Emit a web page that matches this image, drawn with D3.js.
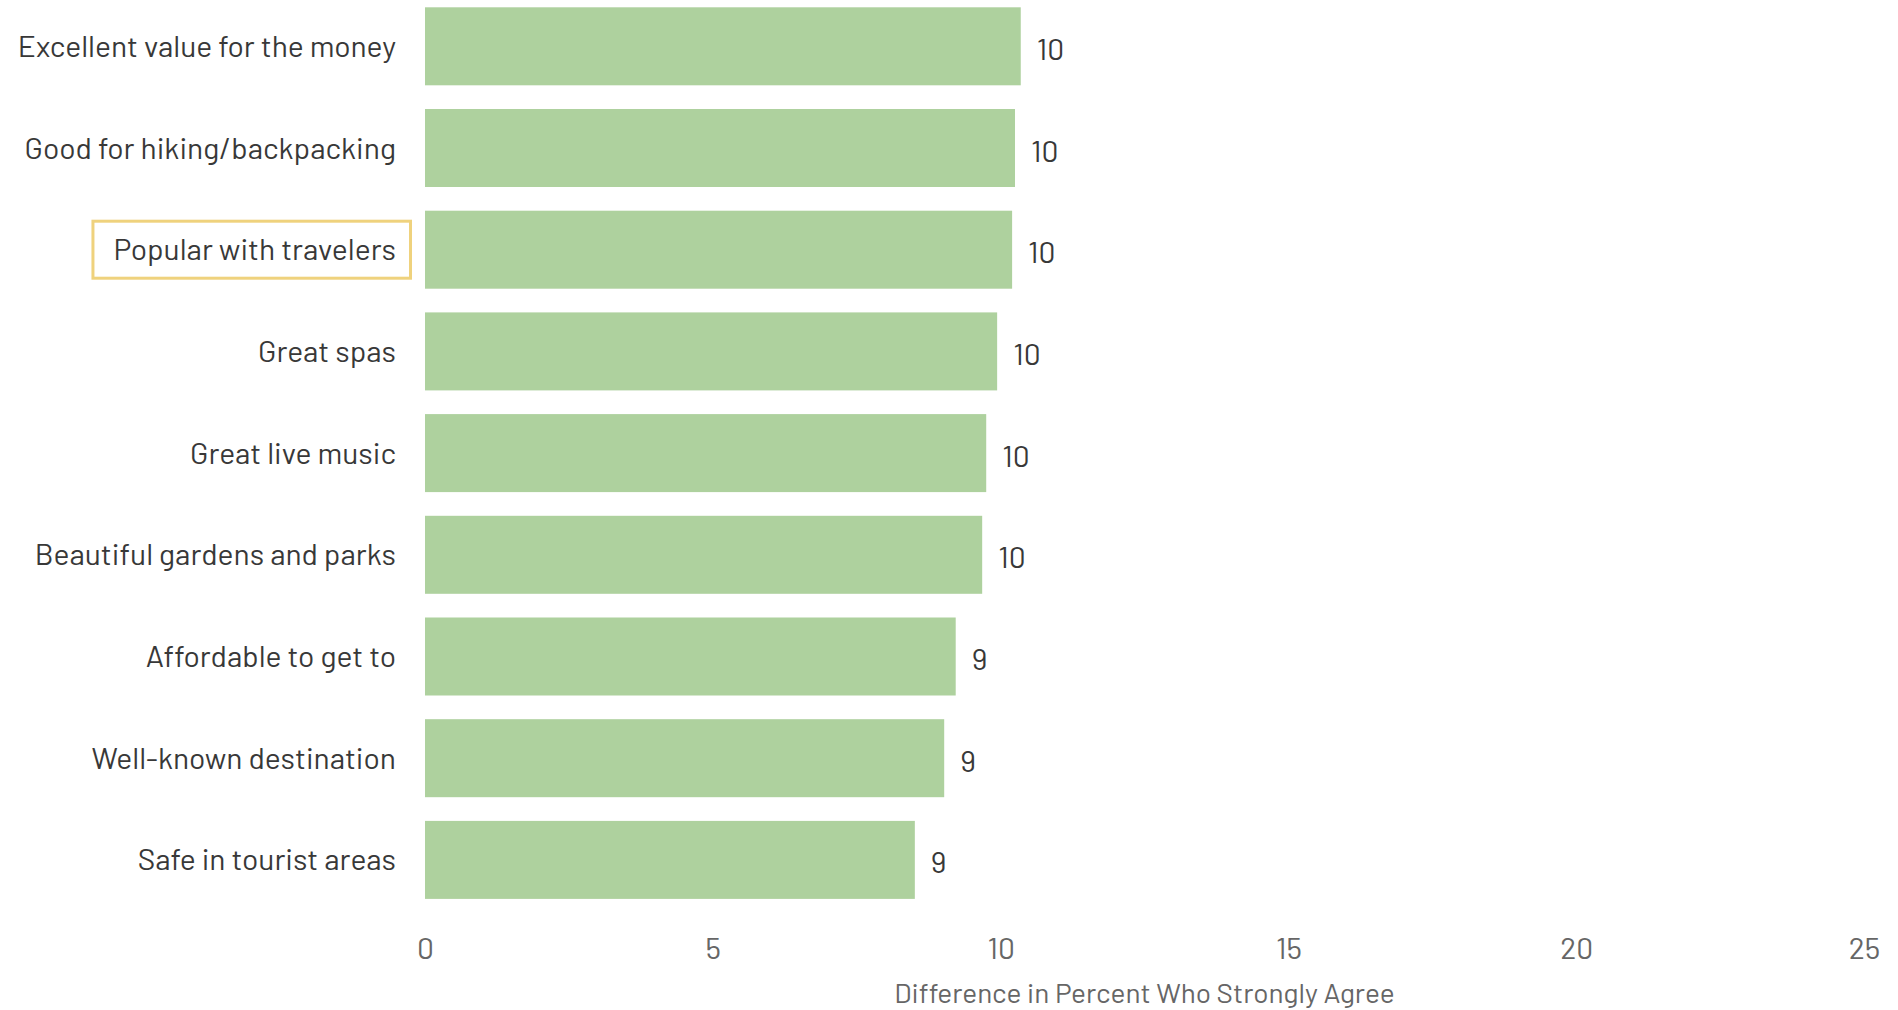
<!DOCTYPE html>
<html>
<head>
<meta charset="utf-8">
<script src="https://cdn.jsdelivr.net/npm/d3@7"></script>
<style>
  html, body { margin: 0; padding: 0; background: #ffffff; }
  svg { display: block; font-family: "Barlow", "Roboto", sans-serif; }
</style>
</head>
<body>
<svg id="chart" width="1898" height="1010"></svg>
<script>
// Attributes, ordered as shown (top to bottom)
const categories = [
  "Excellent value for the money",
  "Good for hiking/backpacking",
  "Popular with travelers",
  "Great spas",
  "Great live music",
  "Beautiful gardens and parks",
  "Affordable to get to",
  "Well-known destination",
  "Safe in tourist areas"
];

// Difference in percent who strongly agree
const values = [10.35, 10.25, 10.20, 9.94, 9.75, 9.68, 9.22, 9.02, 8.51];

// X-axis ticks
const xTicks = [0, 5, 10, 15, 20, 25];

// Category that gets an outlined label
const highlighted = "Popular with travelers";

const axisTitle = "Difference in Percent Who Strongly Agree";

const data = categories.map((c, i) => ({ category: c, value: values[i] }));

const plot = { left: 425, right: 1864, top: 7.3, bottom: 898.9 };

const svg = d3.select("#chart");

const x = d3.scaleLinear()
  .domain([0, 25])
  .range([plot.left, plot.right]);

const y = d3.scaleBand()
  .domain(categories)
  .range([plot.top, plot.bottom])
  .paddingInner(0.233)
  .paddingOuter(0);

// Bars
svg.append("g")
  .selectAll("rect")
  .data(data)
  .join("rect")
    .attr("x", x(0))
    .attr("y", d => y(d.category))
    .attr("width", d => x(d.value) - x(0))
    .attr("height", y.bandwidth())
    .attr("fill", "#aed19e");

// Value labels at the bar ends
const fmt = d3.format(".0f");
svg.append("g")
  .selectAll("text")
  .data(data)
  .join("text")
    .attr("x", d => x(d.value) + 16)
    .attr("y", d => y(d.category) + y.bandwidth() / 2 + 3)
    .attr("dy", "0.35em")
    .attr("fill", "#383838")
    .style("font-size", "30px")
    .text(d => fmt(d.value));

// Category labels
const labels = svg.append("g")
  .selectAll("text")
  .data(data)
  .join("text")
    .attr("x", 396)
    .attr("y", d => y(d.category) + y.bandwidth() / 2)
    .attr("dy", "0.35em")
    .attr("text-anchor", "end")
    .attr("fill", "#383838")
    .style("font-size", "30px")
    .text(d => d.category);

// Outline around the highlighted label
labels.filter(d => d.category === highlighted).each(function (d) {
  const bb = this.getBBox();
  const cy = y(d.category) + y.bandwidth() / 2;
  const left = bb.x - 20.5, right = 410.5;
  svg.insert("rect", ":first-child")
    .attr("x", left)
    .attr("y", cy - 28.5)
    .attr("width", right - left)
    .attr("height", 57)
    .attr("fill", "none")
    .attr("stroke", "#efd27d")
    .attr("stroke-width", 3);
});

// X axis: labels only, no line or tick marks
const xAxis = svg.append("g")
  .attr("transform", `translate(0,${plot.bottom})`)
  .call(d3.axisBottom(x).tickValues(xTicks).tickSize(0).tickPadding(39).tickFormat(d3.format("d")));
xAxis.select(".domain").remove();
xAxis.selectAll("text")
  .attr("fill", "#666666")
  .style("font-family", "Barlow, Roboto, sans-serif")
  .style("font-size", "30px");

// Axis title
svg.append("text")
  .attr("x", (plot.left + plot.right) / 2)
  .attr("y", 1003)
  .attr("text-anchor", "middle")
  .attr("fill", "#666666")
  .style("font-size", "28px")
  .text(axisTitle);
</script>
</body>
</html>
